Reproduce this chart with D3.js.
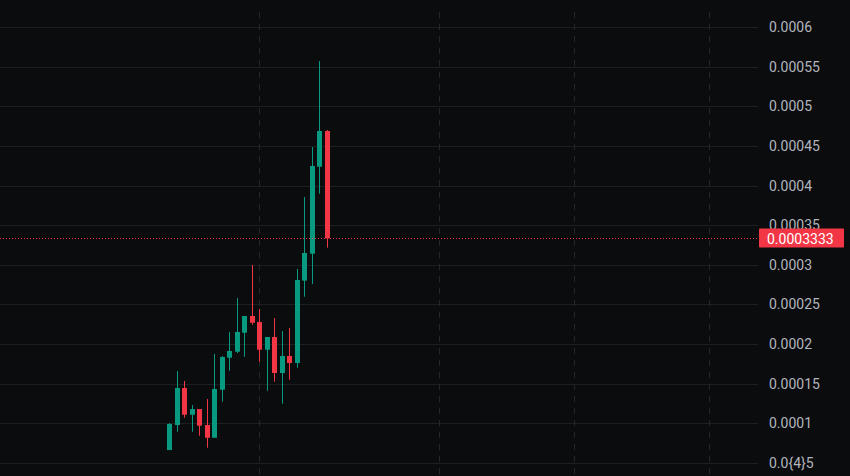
<!DOCTYPE html>
<html>
<head>
<meta charset="utf-8">
<script src="https://cdn.jsdelivr.net/npm/d3@7"></script>
<style>
    body { margin: 0; background: #0b0c0e; overflow: hidden; }
    .gridH { stroke: #1d1e22; stroke-width: 1; }
    .gridV { stroke: #25262b; stroke-width: 1; stroke-dasharray: 6 6; }
    .tickLabel { fill: #b2b5be; font-family: Roboto, "Liberation Sans", sans-serif; font-size: 14px; }
</style>
</head>
<body>
<script>
//candle data, one entry per bar
var opens  = [0.0000660, 0.0000976, 0.0001443, 0.0001106, 0.0001178, 0.0000976, 0.0000815, 0.0001422,
              0.0001826, 0.0001902, 0.0002142, 0.0002353, 0.0002277, 0.0001927, 0.0002088, 0.0001633,
              0.0001848, 0.0001759, 0.0002800, 0.0003140, 0.0004239, 0.0004690];
var highs  = [0.0001001, 0.0001658, 0.0001532, 0.0001228, 0.0001178, 0.0001304, 0.0001873, 0.0001848,
              0.0002151, 0.0002580, 0.0002353, 0.0002997, 0.0002441, 0.0002088, 0.0002328, 0.0002163,
              0.0002201, 0.0002947, 0.0003856, 0.0004488, 0.0005574, 0.0004703];
var lows   = [0.0000660, 0.0000891, 0.0001068, 0.0000891, 0.0000841, 0.0000689, 0.0000815, 0.0001270,
              0.0001662, 0.0001885, 0.0001839, 0.0002243, 0.0001775, 0.0001409, 0.0001523, 0.0001245,
              0.0001548, 0.0001700, 0.0002597, 0.0002757, 0.0003898, 0.0003216];
var closes = [0.0000989, 0.0001443, 0.0001106, 0.0001178, 0.0000967, 0.0000815, 0.0001431, 0.0001835,
              0.0001911, 0.0002151, 0.0002353, 0.0002268, 0.0001927, 0.0002088, 0.0001633, 0.0001848,
              0.0001759, 0.0002808, 0.0003149, 0.0004248, 0.0004690, 0.0003333];

//price axis ticks and their labels
var priceTicks = [0.0006, 0.00055, 0.0005, 0.00045, 0.0004, 0.00035, 0.0003,
                  0.00025, 0.0002, 0.00015, 0.0001, 0.00005];
var tickLabels = ["0.0006", "0.00055", "0.0005", "0.00045", "0.0004", "0.00035", "0.0003",
                  "0.00025", "0.0002", "0.00015", "0.0001", "0.0{4}5"];

//bar index of the time grid lines
var timeTicks = [12, 36, 54, 72];

//last price
var lastPrice = 0.0003333,
    lastPriceLabel = "0.0003333";

window.onload = setChart();

function setChart(){

    //frame dimensions
    var width = 850,
        height = 476,
        plotRight = 758;

    var svg = d3.select("body")
        .append("svg")
        .attr("width", width)
        .attr("height", height);

    //scales: bar index to x, price to y
    var x = d3.scaleLinear()
        .domain([0, 72])
        .range([169.3, 709.3]);

    var y = d3.scaleLinear()
        .domain([0.00005, 0.0006])
        .range([462.7, 27.3]);

    //horizontal grid
    svg.selectAll(".gridH")
        .data(priceTicks)
        .enter()
        .append("line")
        .attr("class", "gridH")
        .attr("x1", 0)
        .attr("x2", plotRight)
        .attr("y1", function(d){ return Math.round(y(d)) + 0.5; })
        .attr("y2", function(d){ return Math.round(y(d)) + 0.5; });

    //vertical dashed grid
    svg.selectAll(".gridV")
        .data(timeTicks)
        .enter()
        .append("line")
        .attr("class", "gridV")
        .attr("x1", function(d){ return Math.round(x(d)) + 0.5; })
        .attr("x2", function(d){ return Math.round(x(d)) + 0.5; })
        .attr("y1", 12)
        .attr("y2", height);

    //price axis labels
    svg.selectAll(".tickLabel")
        .data(priceTicks)
        .enter()
        .append("text")
        .attr("class", "tickLabel")
        .attr("x", 769)
        .attr("y", function(d){ return y(d) + 5; })
        .text(function(d, i){ return tickLabels[i]; });

    //candles
    var bars = d3.range(opens.length);
    var candles = svg.selectAll(".candle")
        .data(bars)
        .enter()
        .append("g")
        .attr("class", "candle");

    candles.append("line")
        .attr("x1", function(i){ return Math.round(x(i)) + 0.5; })
        .attr("x2", function(i){ return Math.round(x(i)) + 0.5; })
        .attr("y1", function(i){ return y(highs[i]); })
        .attr("y2", function(i){ return y(lows[i]); })
        .attr("stroke", color)
        .attr("stroke-width", 1);

    candles.append("rect")
        .attr("x", function(i){ return Math.round(x(i)) - 2; })
        .attr("width", 5)
        .attr("y", function(i){ return y(Math.max(opens[i], closes[i])); })
        .attr("height", function(i){ return Math.max(1, Math.abs(y(opens[i]) - y(closes[i]))); })
        .attr("fill", color);

    function color(i){
        return closes[i] >= opens[i] ? "#089981" : "#f23645";
    }

    //last price line and tag
    var yLast = Math.round(y(lastPrice)) + 0.5;
    svg.append("line")
        .attr("x1", 0)
        .attr("x2", plotRight)
        .attr("y1", yLast)
        .attr("y2", yLast)
        .attr("stroke", "#f23645")
        .attr("stroke-width", 1)
        .attr("stroke-dasharray", "1 2");

    svg.append("rect")
        .attr("x", 759)
        .attr("y", yLast - 10)
        .attr("width", 85)
        .attr("height", 19)
        .attr("rx", 1)
        .attr("fill", "#f23645");

    svg.append("text")
        .attr("x", 767)
        .attr("y", yLast + 5)
        .attr("fill", "#ffffff")
        .style("font-family", "Roboto, 'Liberation Sans', sans-serif")
        .style("font-size", "14px")
        .text(lastPriceLabel);
}
</script>
</body>
</html>
